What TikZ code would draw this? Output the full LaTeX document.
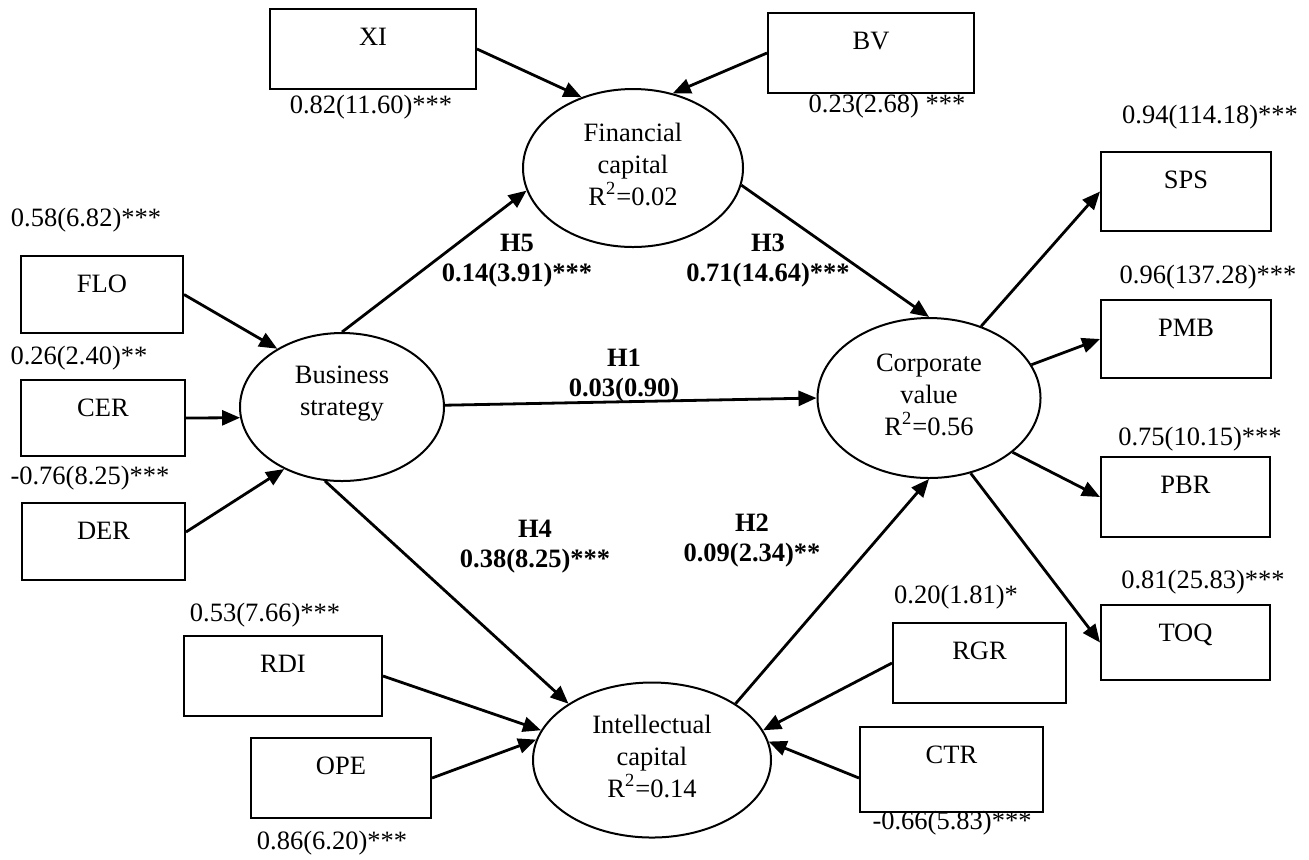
\documentclass[tikz,border=0pt]{standalone}
\usepackage{fontspec}
\setmainfont{Liberation Serif}
\usetikzlibrary{arrows.meta,shapes.geometric}
\newcommand{\lattext}[2]{\smash{\raisebox{#1}{\begin{tabular}{@{}c@{}}#2\end{tabular}}}}
\begin{document}
\begin{tikzpicture}[x=0.5pt,y=-0.5pt,
  font=\fontsize{13.25}{16}\selectfont,
  line width=1pt,
  arr/.style={line width=1.4pt, -{Triangle[length=9pt,width=7.5pt]}},
  bx/.style 2 args={draw, rectangle, inner sep=0pt, minimum width=#1, text height=18.4pt, text depth=#2},
  latent/.style 2 args={draw, ellipse, inner sep=0pt, minimum width=#1, minimum height=#2},
  lbl/.style={inner sep=0pt},
  hyp/.style={inner sep=0pt, align=center, font=\fontsize{13.25}{15}\selectfont\bfseries},
]
\useasboundingbox (0,0) rectangle (1309,859);

% latent variables
\node[latent={110pt}{79pt}] (fc) at (633,168) {\lattext{-3pt}{Financial\\capital\\R\textsuperscript{2}=0.02}};
\node[latent={102pt}{74pt}] (bs) at (342,407) {\lattext{3.5pt}{Business\\strategy}};
\node[latent={111.5pt}{80pt}] (cv) at (929,398) {\lattext{-3pt}{Corporate\\value\\R\textsuperscript{2}=0.56}};
\node[latent={119pt}{77.5pt}] (ic) at (652,760) {\lattext{-3pt}{Intellectual\\capital\\R\textsuperscript{2}=0.14}};

% indicators
\node[bx={103pt}{21.6pt}] (xi) at (373,49) {XI};
\node[bx={103pt}{21.6pt}] (bv) at (871,53) {BV};
\node[bx={81pt}{20.1pt}] (flo) at (102,294.5) {FLO};
\node[bx={82pt}{19.6pt}] (cer) at (103,418) {CER};
\node[bx={81.5pt}{20.1pt}] (der) at (103.5,541.5) {DER};
\node[bx={99pt}{21.6pt}] (rdi) at (283,676) {RDI};
\node[bx={90pt}{21.6pt}] (ope) at (341,778) {OPE};
\node[bx={86.5pt}{21.6pt}] (rgr) at (979.5,663) {RGR};
\node[bx={91.5pt}{24.1pt}] (ctr) at (951.5,769.5) {CTR};
\node[bx={85pt}{21.1pt}] (sps) at (1186,191.5) {SPS};
\node[bx={85pt}{20.6pt}] (pmb) at (1186,339) {PMB};
\node[bx={84.5pt}{21.6pt}] (pbr) at (1185.5,497) {PBR};
\node[bx={84.5pt}{19.1pt}] (toq) at (1185.5,642.5) {TOQ};

% loadings
\node[lbl] (lxi) at (371,107) {0.82(11.60)***};
\node[lbl] (lbv) at (887,106) {0.23(2.68) ***};
\node[lbl] (lflo) at (86,220) {0.58(6.82)***};
\node[lbl] (lcer) at (79,358) {0.26(2.40)**};
\node[lbl] (lder) at (90,478) {-0.76(8.25)***};
\node[lbl] (lrdi) at (265,615) {0.53(7.66)***};
\node[lbl] (lope) at (332,843) {0.86(6.20)***};
\node[lbl] (lrgr) at (956,597) {0.20(1.81)*};
\node[lbl] (lctr) at (952,823) {-0.66(5.83)***};
\node[lbl] (lsps) at (1210,117) {0.94(114.18)***};
\node[lbl] (lpmb) at (1208,277) {0.96(137.28)***};
\node[lbl] (lpbr) at (1200,439) {0.75(10.15)***};
\node[lbl] (ltoq) at (1203,582) {0.81(25.83)***};

% hypotheses
\node[hyp] (h5) at (517,261) {H5\\0.14(3.91)***};
\node[hyp] (h3) at (768,261) {H3\\0.71(14.64)***};
\node[hyp] (h1) at (624,376) {H1\\0.03(0.90)};
\node[hyp] (h4) at (535,547) {H4\\0.38(8.25)***};
\node[hyp] (h2) at (752,541) {H2\\0.09(2.34)**};

% connectors
\draw[arr] (xi.east) -- (fc.126);
\draw[arr] (bv.west) -- (fc.62);
\draw[arr] (flo.east) -- (bs.138);
\draw[arr] (cer.east) -- (bs.186);
\draw[arr] ([yshift=4.75pt]der.east) -- (bs.227);
\draw[arr] (bs.90) -- (fc.192);
\draw[arr] (bs.1) -- (cv.180);
\draw[arr] (bs.257) -- (ic.146);
\draw[arr] (fc.351) -- (cv.90);
\draw[arr] (ic.34) -- (cv.270);
\draw[arr] (rdi.east) -- (ic.165);
\draw[arr] (ope.east) -- (ic.170);
\draw[arr] (rgr.west) -- (ic.15);
\draw[arr] ([yshift=-4.25pt]ctr.west) -- (ic.9.5);
\draw[arr] (cv.54) -- (sps.west);
\draw[arr] (cv.18) -- (pmb.west);
\draw[arr] (cv.327) -- (pbr.west);
\draw[arr] (cv.299) -- (toq.west);
\end{tikzpicture}
\end{document}
